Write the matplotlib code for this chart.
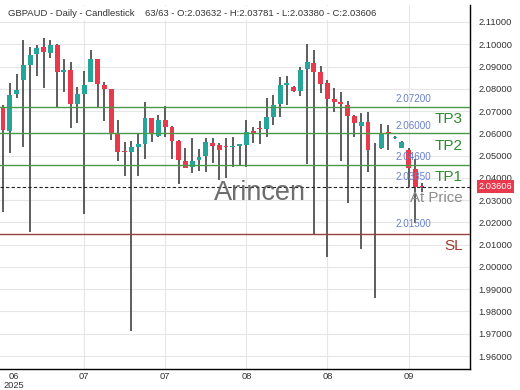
import numpy as np
import matplotlib
matplotlib.use("Agg")
import matplotlib.pyplot as plt
import matplotlib.transforms as mtransforms

plt.rcParams['font.family'] = ['Liberation Sans', 'DejaVu Sans']

# daily candles, oldest first
opens = [2.07125, 2.06119, 2.07754, 2.08396, 2.09069, 2.09550, 2.09864, 2.09595, 2.09967, 2.08742,
         2.08845, 2.07318, 2.07754, 2.08320, 2.09339, 2.08171, 2.07992, 2.05958, 2.05208, 2.05150,
         2.05401, 2.05522, 2.06676, 2.05895, 2.06600, 2.06272, 2.05657, 2.04772, 2.04480, 2.04800,
         2.04997, 2.05580, 2.05480, 2.05440, 2.05380, 2.05450, 2.05470, 2.06120, 2.06230, 2.06200,
         2.06750, 2.07320, 2.08170, 2.08095, 2.07915, 2.08890, 2.09146, 2.08768, 2.08248, 2.07530,
         2.07420, 2.07273, 2.06779, 2.06330, 2.06523, 2.05230, 2.05329, 2.06050, 2.05780, 2.05356,
         2.05253, 2.04400, 2.03632]
highs = [2.07273, 2.08275, 2.08665, 2.10192, 2.09891, 2.09967, 2.10295, 2.10192, 2.10000, 2.09339,
         2.09190, 2.08095, 2.08800, 2.09743, 2.09360, 2.08320, 2.08000, 2.06600, 2.05625, 2.05657,
         2.05958, 2.07421, 2.06690, 2.06824, 2.07228, 2.06344, 2.05700, 2.05329, 2.05805, 2.05298,
         2.05800, 2.05800, 2.05554, 2.05800, 2.05850, 2.05520, 2.06600, 2.06300, 2.06550, 2.07574,
         2.07722, 2.08544, 2.08589, 2.08120, 2.08993, 2.09999, 2.09743, 2.09038, 2.08396, 2.08023,
         2.07844, 2.07453, 2.06820, 2.06900, 2.06946, 2.05581, 2.06407, 2.06380, 2.05870, 2.05640,
         2.05330, 2.04849, 2.03781]
lows = [2.02482, 2.05105, 2.07574, 2.05401, 2.01584, 2.08589, 2.08050, 2.09397, 2.07152, 2.07844,
        2.06254, 2.06452, 2.02379, 2.08300, 2.07152, 2.06555, 2.05702, 2.04759, 2.04099, 1.97126,
        2.04099, 2.04849, 2.05599, 2.05850, 2.05850, 2.04835, 2.03726, 2.04440, 2.04207, 2.04323,
        2.04280, 2.04656, 2.03883, 2.04009, 2.04476, 2.04530, 2.04500, 2.05580, 2.05510, 2.05850,
        2.06375, 2.06748, 2.07273, 2.07844, 2.07691, 2.04624, 2.01436, 2.07799, 2.00462, 2.06972,
        2.04759, 2.02860, 2.05850, 2.00794, 2.04252, 1.98594, 2.05300, 2.05250, 2.05760, 2.05340,
        2.03605, 2.01962, 2.03380]
closes = [2.06151, 2.07722, 2.07933, 2.09069, 2.09518, 2.09819, 2.09640, 2.09967, 2.08742, 2.08845,
          2.07318, 2.07754, 2.08171, 2.09339, 2.08203, 2.07992, 2.05971, 2.05176, 2.05150, 2.05401,
          2.05522, 2.06676, 2.05971, 2.06600, 2.06299, 2.05657, 2.04804, 2.04458, 2.04770, 2.04925,
          2.05599, 2.05432, 2.05253, 2.05370, 2.05450, 2.05500, 2.06074, 2.06000, 2.06180, 2.06748,
          2.07273, 2.08171, 2.08275, 2.07915, 2.08845, 2.09190, 2.08768, 2.08203, 2.07543, 2.07421,
          2.07305, 2.06793, 2.06452, 2.06523, 2.05253, 2.05270, 2.06030, 2.05990, 2.05850, 2.05625,
          2.04431, 2.03605, 2.03606]

x_tick_pos = [1.6, 12, 24, 36, 48, 60]
x_tick_labels = ["06\n2025", "07", "07", "08", "08", "09"]
y_ticks = [2.11, 2.10, 2.09, 2.08, 2.07, 2.06, 2.05, 2.04, 2.03, 2.02, 2.01, 2.00, 1.99, 1.98, 1.97, 1.96]

tp_levels = [2.072, 2.060, 2.046]
tp_names = ["TP3", "TP2", "TP1"]
at_price = 2.03606
at_price_tag = "2.03850"
sl_level = 2.015
last_close = closes[-1]

green = '#26a69a'
red = '#e8394d'
wick = '#505050'
line_green = '#4a9a4a'
text_green = '#2e8b2e'
sl_color = '#9a4040'
label_blue = '#6680d0'

fig = plt.figure(figsize=(5.2, 3.9), dpi=100, facecolor='white')
ax = fig.add_axes([0.0, 21 / 390, 470 / 520, 364 / 390])

idx = np.arange(len(opens))
o = np.array(opens)
c = np.array(closes)
cols = [green if cc >= oo else red for oo, cc in zip(o, c)]

ax.vlines(idx, lows, highs, color=wick, linewidth=1.3, zorder=2)
body = np.maximum(np.abs(c - o), 0.0003)
ax.bar(idx, body, bottom=np.minimum(o, c), width=0.72, color=cols, linewidth=0, zorder=3)

# level lines
for lvl, name in zip(tp_levels, tp_names):
    ax.axhline(lvl, color=line_green, linewidth=1.0, zorder=4)
    ax.annotate(f"{lvl:.5f}", (63.3, lvl), xytext=(0, 2), textcoords='offset points',
                ha='right', va='bottom', fontsize=7.1, color=label_blue, zorder=6)
    ax.annotate(name, (68.0, lvl), xytext=(0, -4), textcoords='offset points',
                ha='right', va='top', fontsize=11, color=text_green, zorder=6)

ax.axhline(at_price, color='#222222', linewidth=0.8, linestyle=(0, (3, 2)), zorder=4)
ax.annotate(at_price_tag, (63.3, at_price), xytext=(0, 3), textcoords='offset points',
            ha='right', va='bottom', fontsize=7.1, color=label_blue, zorder=6)
ax.annotate("At Price", (68.0, at_price), xytext=(0, -3), textcoords='offset points',
            ha='right', va='top', fontsize=10.8, color='#8c8c8c', zorder=6)

ax.axhline(sl_level, color=sl_color, linewidth=1.0, zorder=4)
ax.annotate(f"{sl_level:.5f}", (63.3, sl_level), xytext=(0, 3), textcoords='offset points',
            ha='right', va='bottom', fontsize=7.1, color=label_blue, zorder=6)
ax.annotate("SL", (68.0, sl_level), xytext=(0, -4), textcoords='offset points',
            ha='right', va='top', fontsize=11, color='#a0392f', zorder=6)

ax.text(0.553, 0.483, "Arincen", transform=ax.transAxes, ha='center', va='center',
        fontsize=19.5, color='#555555', alpha=0.85, zorder=5)

ax.set_xlim(-0.45, 69.1)
ax.set_ylim(1.95418, 2.11763)

ax.yaxis.tick_right()
ax.set_yticks(y_ticks)
ax.set_yticklabels([f"{t:.5f}" for t in y_ticks])
ax.set_xticks(x_tick_pos)
ax.set_xticklabels(x_tick_labels)
ax.tick_params(axis='y', length=0, pad=5.8, labelsize=6.7, labelcolor='#333333')
ax.tick_params(axis='x', length=0, pad=2.5, labelsize=6.7, labelcolor='#333333')
for lab in ax.get_xticklabels():
    lab.set_linespacing(0.95)

ax.grid(True, color='#e6e6e6', linewidth=0.8, zorder=0)
ax.set_axisbelow(True)
ax.get_xgridlines()[0].set_visible(False)

for side in ['left', 'top']:
    ax.spines[side].set_visible(False)
for side in ['right', 'bottom']:
    ax.spines[side].set_color('black')
    ax.spines[side].set_linewidth(1.0)

# last price tag on the price axis
trans = mtransforms.blended_transform_factory(ax.transAxes, ax.transData)
ax.text(1.019, last_close, f"{last_close:.5f}", transform=trans, ha='left', va='center',
        fontsize=6.7, color='white', clip_on=False, zorder=10,
        bbox=dict(boxstyle='square,pad=0.18', facecolor=red, edgecolor='none'))

fig.text(8 / 520, 1 - 13 / 390,
         "GBPAUD - Daily - Candlestick    63/63 - O:2.03632 - H:2.03781 - L:2.03380 - C:2.03606",
         ha='left', va='center', fontsize=6.8, color='#333333',
         bbox=dict(boxstyle='square,pad=0.3', facecolor='white', edgecolor='none'))

fig.savefig("out.png", dpi=100, facecolor='white')
